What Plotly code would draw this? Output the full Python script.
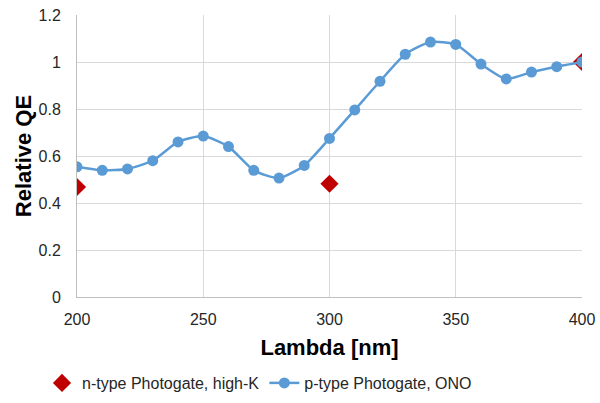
import plotly.graph_objects as go

# Wavelength sweep and relative quantum efficiency
lambda_p = [200, 210, 220, 230, 240, 250, 260, 270, 280, 290, 300,
            310, 320, 330, 340, 350, 360, 370, 380, 390, 400]
qe_p = [0.554, 0.539, 0.545, 0.580, 0.660, 0.685, 0.640, 0.539, 0.506, 0.560, 0.675,
        0.796, 0.918, 1.033, 1.085, 1.075, 0.991, 0.928, 0.957, 0.980, 1.0]

lambda_n = [200, 300, 400]
qe_n = [0.468, 0.482, 1.0]

x_ticks = [200, 250, 300, 350, 400]
y_ticks = [0, 0.2, 0.4, 0.6, 0.8, 1.0, 1.2]
y_labels = ["0", "0.2", "0.4", "0.6", "0.8", "1", "1.2"]

FONT = "Liberation Sans, Arial, sans-serif"

fig = go.Figure()
fig.add_trace(go.Scatter(
    x=lambda_n, y=qe_n, mode="markers", name="n-type Photogate, high-K",
    marker=dict(symbol="diamond", size=14, color="#C00000"),
))
fig.add_trace(go.Scatter(
    x=lambda_p, y=qe_p, mode="lines+markers", name="p-type Photogate, ONO",
    line=dict(color="#5B9BD5", width=2.5, shape="spline", smoothing=0.6),
    marker=dict(symbol="circle", size=11, color="#5B9BD5"),
))

fig.update_layout(
    width=600, height=403,
    margin=dict(l=77, r=18, t=15, b=106, autoexpand=False),
    paper_bgcolor="white", plot_bgcolor="white",
    font=dict(family=FONT, size=16, color="#262626"),
    showlegend=True,
    legend=dict(orientation="h", x=42 / 600, xanchor="left", xref="container",
                y=20 / 403, yanchor="middle", yref="container",
                font=dict(size=16, color="#262626"), itemwidth=30,
                tracegroupgap=0),
    xaxis=dict(
        range=[200, 400], tickvals=x_ticks, showgrid=True, gridcolor="#D9D9D9",
        gridwidth=1, showline=True, linecolor="#BFBFBF", zeroline=False,
        ticks="", tickfont=dict(size=16), automargin=False, ticklabelstandoff=8,
        title=dict(text="<b>Lambda [nm]</b>", font=dict(size=22, color="black"), standoff=12),
    ),
    yaxis=dict(
        range=[0, 1.2], tickvals=y_ticks, ticktext=y_labels, showgrid=True,
        gridcolor="#D9D9D9", gridwidth=1, showline=True, linecolor="#BFBFBF",
        zeroline=False, ticks="", tickfont=dict(size=16), automargin=False,
        ticklabelstandoff=12,
        title=dict(text="<b>Relative QE</b>", font=dict(size=22, color="black"), standoff=0),
    ),
)

fig.write_html("out.html")
